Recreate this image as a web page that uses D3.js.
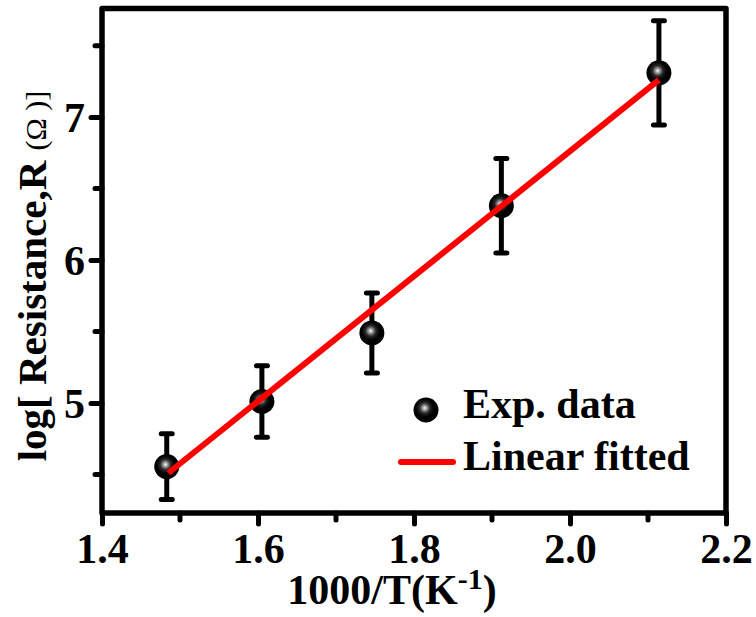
<!DOCTYPE html>
<html>
<head>
<meta charset="utf-8">
<script src="https://cdn.jsdelivr.net/npm/d3@7"></script>
<style>
  body { margin: 0; background: #fff; }
  svg text { font-family: "Liberation Serif", "Times New Roman", serif; font-weight: bold; fill: #000; }
</style>
</head>
<body>
<div id="chart"></div>
<script>
(function(d3) {
    // measured points: 1000/T, log R, error
    var invT = [1.483, 1.605, 1.746, 1.912, 2.114];
    var logR = [4.555, 5.01, 5.49, 6.38, 7.31];
    var errR = [0.23, 0.25, 0.28, 0.33, 0.365];

    // linear fit end points
    var fitX = [1.485, 2.114];
    var fitY = [4.51, 7.26];

    var xTicks = [1.4, 1.6, 1.8, 2.0, 2.2];
    var xMinor = [1.5, 1.7, 1.9, 2.1];
    var yTicks = [5, 6, 7];
    var yMinor = [4.5, 5.5, 6.5, 7.5];

    var legendLabels = ['Exp. data', 'Linear fitted'];

    var w = 756, h = 617;
    var left = 102, right = 726, top = 8.5, bottom = 513;

    var x = d3.scaleLinear().domain([1.4, 2.2]).range([left, right]);
    var y = d3.scaleLinear().domain([4.23, 7.76]).range([bottom, top]);

    var svg = d3.select('#chart')
        .append('svg')
        .attr('width', w)
        .attr('height', h);

    var defs = svg.append('defs');
    var grad = defs.append('radialGradient')
        .attr('id', 'ball')
        .attr('cx', '45%').attr('cy', '42%').attr('r', '55%');
    grad.append('stop').attr('offset', '0%').attr('stop-color', '#fff');
    grad.append('stop').attr('offset', '14%').attr('stop-color', '#aaa');
    grad.append('stop').attr('offset', '38%').attr('stop-color', '#2a2a2a');
    grad.append('stop').attr('offset', '65%').attr('stop-color', '#000');

    // axes (outside ticks, bottom and left only)
    var xAxis = d3.axisBottom(x).tickValues(xTicks).tickSize(11).tickPadding(10)
        .tickFormat(d3.format('.1f'));
    var gx = svg.append('g').attr('transform', 'translate(0,' + bottom + ')').call(xAxis);
    gx.select('.domain').remove();
    gx.selectAll('line').attr('stroke', '#000').attr('stroke-width', 5).attr('stroke-linecap', 'round');
    gx.selectAll('text').attr('font-size', 42).attr('dy', '0.68em');

    gx.selectAll('.minor').data(xMinor).enter().append('line')
        .attr('class', 'minor')
        .attr('x1', function(d) { return x(d); })
        .attr('x2', function(d) { return x(d); })
        .attr('y1', 0).attr('y2', 7)
        .attr('stroke', '#000').attr('stroke-width', 5).attr('stroke-linecap', 'round');

    var yAxis = d3.axisLeft(y).tickValues(yTicks).tickSize(11).tickPadding(6)
        .tickFormat(d3.format('d'));
    var gy = svg.append('g').attr('transform', 'translate(' + left + ',0)').call(yAxis);
    gy.select('.domain').remove();
    gy.selectAll('line').attr('stroke', '#000').attr('stroke-width', 5).attr('stroke-linecap', 'round');
    gy.selectAll('text').attr('font-size', 42).attr('dy', '0.34em');

    gy.selectAll('.minor').data(yMinor).enter().append('line')
        .attr('class', 'minor')
        .attr('y1', function(d) { return y(d); })
        .attr('y2', function(d) { return y(d); })
        .attr('x1', 0).attr('x2', -7)
        .attr('stroke', '#000').attr('stroke-width', 5).attr('stroke-linecap', 'round');

    // frame
    svg.append('rect')
        .attr('x', left).attr('y', top)
        .attr('width', right - left).attr('height', bottom - top)
        .attr('fill', 'none')
        .attr('stroke', '#000').attr('stroke-width', 5.5)
        .attr('stroke-linejoin', 'round');

    var pts = invT.map(function(d, i) { return { x: d, y: logR[i], e: errR[i] }; });

    // error bars
    var eb = svg.append('g').selectAll('g').data(pts).enter().append('g');
    eb.append('line')
        .attr('x1', function(d) { return x(d.x); })
        .attr('x2', function(d) { return x(d.x); })
        .attr('y1', function(d) { return y(d.y - d.e); })
        .attr('y2', function(d) { return y(d.y + d.e); })
        .attr('stroke', '#000').attr('stroke-width', 5);
    [-1, 1].forEach(function(s) {
        eb.append('line')
            .attr('x1', function(d) { return x(d.x) - 5.5; })
            .attr('x2', function(d) { return x(d.x) + 5.5; })
            .attr('y1', function(d) { return y(d.y + s * d.e); })
            .attr('y2', function(d) { return y(d.y + s * d.e); })
            .attr('stroke', '#000').attr('stroke-width', 5).attr('stroke-linecap', 'round');
    });

    // markers
    svg.append('g').selectAll('circle').data(pts).enter().append('circle')
        .attr('cx', function(d) { return x(d.x); })
        .attr('cy', function(d) { return y(d.y); })
        .attr('r', 12.5)
        .attr('fill', 'url(#ball)');

    // fit line
    var line = d3.line()
        .x(function(d) { return x(d[0]); })
        .y(function(d) { return y(d[1]); });
    svg.append('path')
        .datum(fitX.map(function(d, i) { return [d, fitY[i]]; }))
        .attr('d', line)
        .attr('fill', 'none')
        .attr('stroke', '#ff0000')
        .attr('stroke-width', 6);

    // legend
    svg.append('circle').attr('cx', 426).attr('cy', 410).attr('r', 12.5).attr('fill', 'url(#ball)');
    svg.append('line').attr('x1', 401).attr('x2', 453).attr('y1', 462).attr('y2', 462)
        .attr('stroke', '#ff0000').attr('stroke-width', 6).attr('stroke-linecap', 'round');
    svg.selectAll('.leg').data(legendLabels).enter().append('text')
        .attr('class', 'leg')
        .attr('x', 463)
        .attr('y', function(d, i) { return 418 + i * 52; })
        .attr('font-size', 42)
        .text(function(d) { return d; });

    // axis titles
    var xt = svg.append('text')
        .attr('x', 392).attr('y', 604)
        .attr('text-anchor', 'middle')
        .attr('font-size', 42);
    xt.append('tspan').text('1000/T(K');
    xt.append('tspan').attr('font-size', 30).attr('dy', -15).text('-1');
    xt.append('tspan').attr('dy', 15).text(')');

    var yt = svg.append('text')
        .attr('transform', 'translate(46,276) rotate(-90)')
        .attr('text-anchor', 'middle')
        .attr('font-size', 41);
    yt.append('tspan').text('log[ Resistance,R ');
    yt.append('tspan').attr('font-weight', 'normal').attr('font-size', 30).text('(\u03A9 )]');
}(window.d3));
</script>
</body>
</html>
